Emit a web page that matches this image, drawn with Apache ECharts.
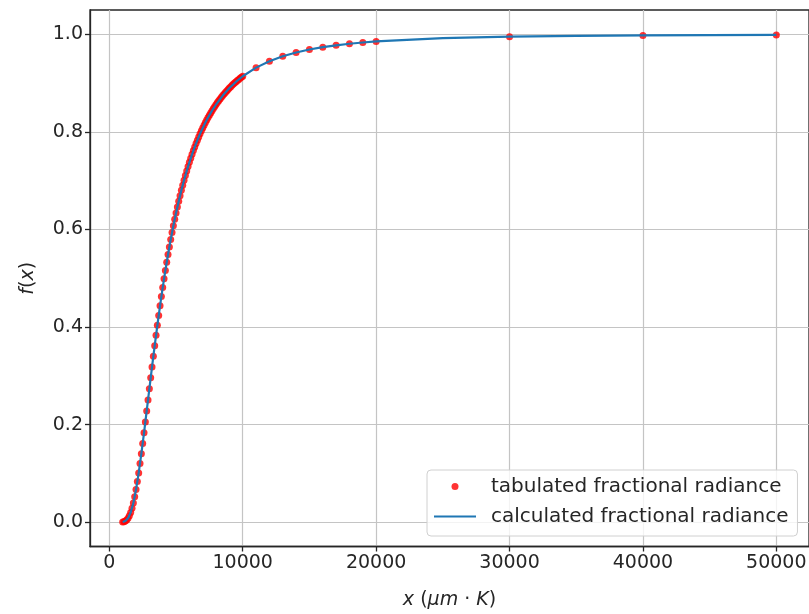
<!DOCTYPE html>
<html>
<head>
<meta charset="utf-8">
<script src="https://cdn.jsdelivr.net/npm/echarts@6/dist/echarts.min.js"></script>
<style>
  html, body { margin: 0; padding: 0; background: #ffffff; }
  #chart { width: 809px; height: 614px; }
</style>
</head>
<body>
<div id="chart"></div>
<script>
// Tabulated blackbody fractional radiance F(0 -> lambda*T)
const tabX = [
  1000, 1100, 1200, 1300, 1400, 1500, 1600, 1700, 1800, 1900,
  2000, 2100, 2200, 2300, 2400, 2500, 2600, 2700, 2800, 2900,
  3000, 3100, 3200, 3300, 3400, 3500, 3600, 3700, 3800, 3900,
  4000, 4100, 4200, 4300, 4400, 4500, 4600, 4700, 4800, 4900,
  5000, 5100, 5200, 5300, 5400, 5500, 5600, 5700, 5800, 5900,
  6000, 6100, 6200, 6300, 6400, 6500, 6600, 6700, 6800, 6900,
  7000, 7100, 7200, 7300, 7400, 7500, 7600, 7700, 7800, 7900,
  8000, 8100, 8200, 8300, 8400, 8500, 8600, 8700, 8800, 8900,
  9000, 9100, 9200, 9300, 9400, 9500, 9600, 9700, 9800, 9900,
  10000, 11000, 12000, 13000, 14000, 15000, 16000, 17000, 18000, 19000,
  20000, 30000, 40000, 50000
];
const tabF = [
  0.00032, 0.00091, 0.00213, 0.00432, 0.00779, 0.01285, 0.01972, 0.02853, 0.03934, 0.05210,
  0.06673, 0.08305, 0.10088, 0.12002, 0.14025, 0.16135, 0.18311, 0.20535, 0.22788, 0.25055,
  0.27322, 0.29576, 0.31809, 0.34010, 0.36174, 0.38290, 0.40359, 0.42375, 0.44336, 0.46240,
  0.48085, 0.49872, 0.51599, 0.53267, 0.54877, 0.56430, 0.57926, 0.59367, 0.60754, 0.62088,
  0.63373, 0.64607, 0.65796, 0.66936, 0.68035, 0.69088, 0.70103, 0.71077, 0.72014, 0.72913,
  0.73778, 0.74610, 0.75410, 0.76180, 0.76920, 0.77631, 0.78316, 0.78975, 0.79609, 0.80219,
  0.80807, 0.81373, 0.81918, 0.82442, 0.82948, 0.83436, 0.83906, 0.84359, 0.84796, 0.85218,
  0.85625, 0.86017, 0.86396, 0.86762, 0.87115, 0.87457, 0.87786, 0.88105, 0.88413, 0.88711,
  0.88999, 0.89277, 0.89547, 0.89807, 0.90060, 0.90304, 0.90541, 0.90770, 0.90992, 0.91207,
  0.91415, 0.93184, 0.94505, 0.95509, 0.96285, 0.96893, 0.97377, 0.97765, 0.98081, 0.98341,
  0.98555, 0.99529, 0.99792, 0.99890
];

// Calculated curve samples
const calcX = [
  1000, 1200, 1400, 1600, 1800, 2000, 2200, 2400, 2600, 2800,
  3000, 3200, 3400, 3600, 3800, 4000, 4200, 4400, 4600, 4800,
  5000, 5200, 5400, 5600, 5800, 6000, 6200, 6400, 6600, 6800,
  7000, 7200, 7400, 7600, 7800, 8000, 8500, 9000, 9500, 10000,
  11000, 12000, 13000, 14000, 15000, 16000, 17000, 18000, 19000, 20000,
  25000, 30000, 35000, 40000, 45000, 50000
];
const calcF = [
  0.00032, 0.00213, 0.00779, 0.01972, 0.03934, 0.06673, 0.10088, 0.14025, 0.18311, 0.22788,
  0.27322, 0.31809, 0.36174, 0.40359, 0.44336, 0.48085, 0.51599, 0.54877, 0.57926, 0.60754,
  0.63373, 0.65796, 0.68035, 0.70103, 0.72014, 0.73778, 0.75410, 0.76920, 0.78316, 0.79609,
  0.80807, 0.81918, 0.82948, 0.83906, 0.84796, 0.85625, 0.87457, 0.88999, 0.90304, 0.91415,
  0.93184, 0.94505, 0.95509, 0.96285, 0.96893, 0.97377, 0.97765, 0.98081, 0.98341, 0.98555,
  0.99217, 0.99529, 0.99695, 0.99792, 0.99852, 0.99890
];

const xTicks = [0, 10000, 20000, 30000, 40000, 50000];
const yTicks = [0, 0.2, 0.4, 0.6, 0.8, 1.0];

const FONT = 'DejaVu Sans';
const INK = '#262626';
const SPINE = '#262626';
const GRID = '#c4c4c4';

const zip = (xs, ys) => xs.map((x, i) => [x, ys[i]]);

const chart = echarts.init(document.getElementById('chart'), null, { renderer: 'canvas' });
chart.setOption({
  animation: false,
  backgroundColor: '#ffffff',
  textStyle: { fontFamily: FONT },
  grid: {
    left: 90, right: 0, top: 10, bottom: 67.5,
    outerBoundsMode: 'none',
    containLabel: false,
    show: true, borderColor: SPINE, borderWidth: 1.3, backgroundColor: 'transparent'
  },
  xAxis: {
    type: 'value',
    min: -1450, max: 52450,
    name: '{i|x} ({i|μm}{n| · }{i|K})',
    nameLocation: 'middle',
    nameGap: 44,
    nameTextStyle: {
      fontFamily: FONT, fontSize: 19, color: INK,
      rich: {
        i: { fontFamily: FONT, fontSize: 19, fontStyle: 'italic', color: INK },
        n: { fontFamily: FONT, fontSize: 19, color: INK }
      }
    },
    axisLine: { show: true, onZero: false, lineStyle: { color: SPINE, width: 1.3 } },
    axisTick: { show: true, length: 5, customValues: xTicks, lineStyle: { color: SPINE, width: 1.3 } },
    axisLabel: {
      customValues: xTicks, margin: 7,
      fontFamily: FONT, fontSize: 19, color: INK,
      formatter: v => String(Math.round(v))
    },
    splitLine: { show: true, lineStyle: { color: GRID, width: 1.2 } }
  },
  yAxis: {
    type: 'value',
    min: -0.05, max: 1.05,
    name: '{i|f}({i|x})',
    nameLocation: 'middle',
    nameRotate: 90,
    nameGap: 52,
    nameTextStyle: {
      fontFamily: FONT, fontSize: 19, color: INK,
      rich: {
        i: { fontFamily: FONT, fontSize: 19, fontStyle: 'italic', color: INK }
      }
    },
    axisLine: { show: true, onZero: false, lineStyle: { color: SPINE, width: 1.3 } },
    axisTick: { show: true, length: 5, customValues: yTicks, lineStyle: { color: SPINE, width: 1.3 } },
    axisLabel: {
      customValues: yTicks, margin: 7,
      fontFamily: FONT, fontSize: 19, color: INK,
      formatter: v => v.toFixed(1)
    },
    splitLine: { show: true, lineStyle: { color: GRID, width: 1.2 } }
  },
  legend: {
    orient: 'vertical',
    left: 427, top: 470,
    padding: [5, 9, 8, 6],
    itemWidth: 42, itemHeight: 7, itemGap: 7,
    backgroundColor: 'rgba(255,255,255,0.8)',
    borderColor: '#d0d0d0', borderWidth: 1, borderRadius: 4,
    textStyle: { fontFamily: FONT, fontSize: 20, color: INK, lineHeight: 23, padding: [0, 0, 0, 10] },
    data: [
      { name: 'tabulated fractional radiance', icon: 'circle' },
      { name: 'calculated fractional radiance', itemStyle: { opacity: 0, borderWidth: 0 } }
    ]
  },
  series: [
    {
      name: 'tabulated fractional radiance',
      type: 'scatter',
      data: zip(tabX, tabF),
      symbol: 'circle',
      symbolSize: 7,
      itemStyle: { color: '#ff0000' },
      z: 2
    },
    {
      name: 'calculated fractional radiance',
      type: 'line',
      data: zip(calcX, calcF),
      symbol: 'none',
      showSymbol: false,
      lineStyle: { color: '#1f77b4', width: 2.2 },
      itemStyle: { color: '#1f77b4' },
      z: 3
    }
  ]
});
</script>
</body>
</html>
